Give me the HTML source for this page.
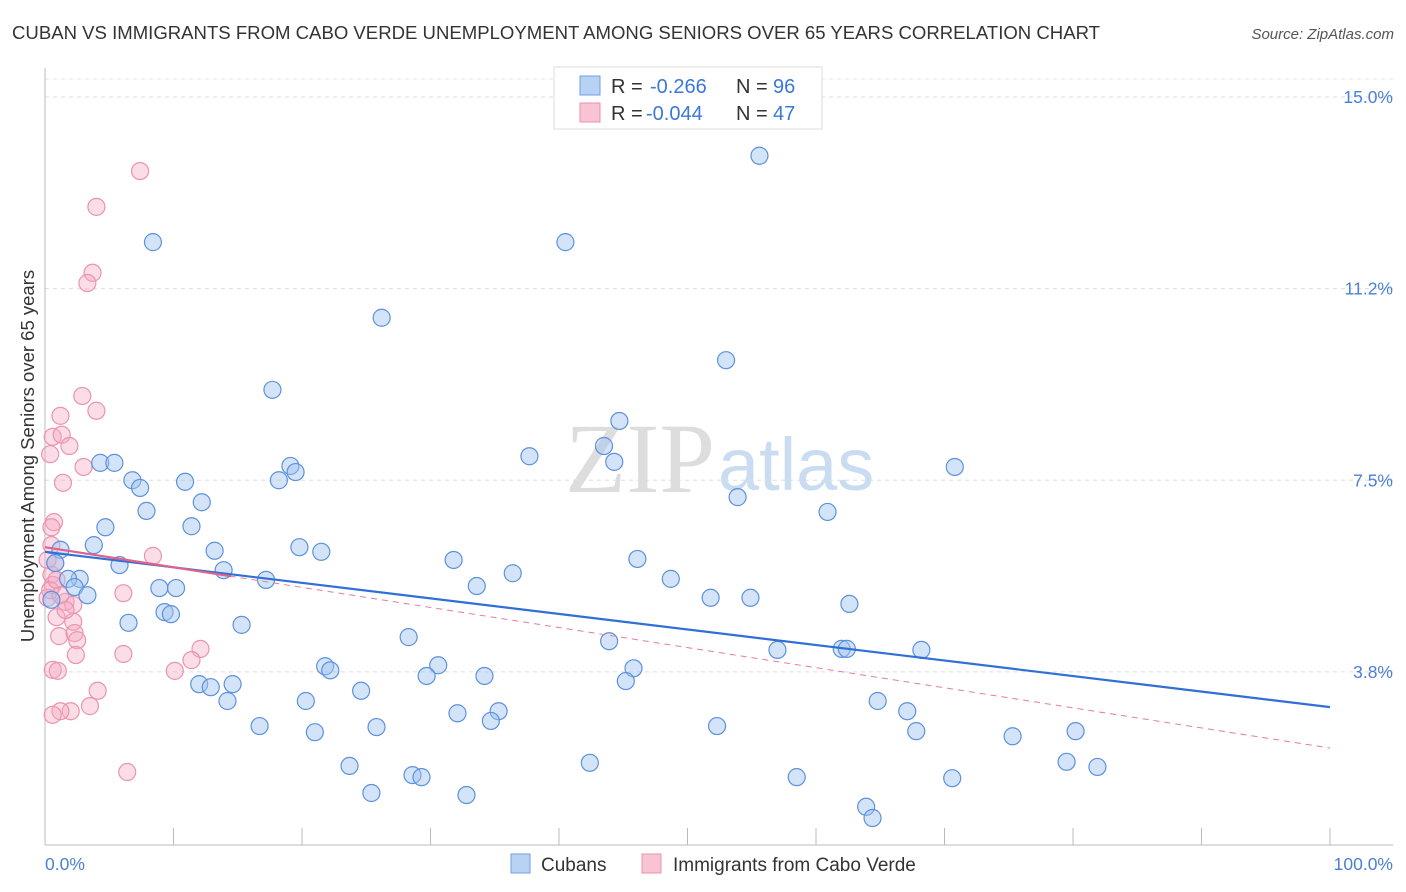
<!DOCTYPE html>
<html><head><meta charset="utf-8"><style>
body{margin:0;background:#fff;font-family:"Liberation Sans",sans-serif;}
</style></head><body>
<svg id="chart" width="1406" height="892" xmlns="http://www.w3.org/2000/svg" style="display:block">
<text x="12" y="39" font-size="18" fill="#333" textLength="1088" lengthAdjust="spacingAndGlyphs">CUBAN VS IMMIGRANTS FROM CABO VERDE UNEMPLOYMENT AMONG SENIORS OVER 65 YEARS CORRELATION CHART</text>
<text x="1394" y="39" font-size="15" fill="#555" font-style="italic" text-anchor="end">Source: ZipAtlas.com</text>
<text x="715" y="492" font-size="100" fill="#ddd" text-anchor="end" font-family="Liberation Serif">ZIP</text>
<text x="718" y="490" font-size="74" fill="#c9dcf2">atlas</text>
<g id="grid"></g>
<g id="axes"></g>
<g id="pts"></g>
<g id="lines"></g>
<text transform="translate(34,456) rotate(-90)" font-size="18.5" fill="#333" text-anchor="middle">Unemployment Among Seniors over 65 years</text>
<g>
<rect x="554" y="67" width="268" height="62" fill="#fff" stroke="#ddd"/>
<rect x="580" y="76" width="20" height="19" fill="#b8d2f4" stroke="#6f9fe0"/>
<text x="611" y="93" font-size="20" fill="#333">R =</text>
<text x="650" y="93" font-size="20" fill="#3b78d8">-0.266</text>
<text x="736" y="93" font-size="20" fill="#333">N =</text>
<text x="773" y="93" font-size="20" fill="#3b78d8">96</text>
<rect x="580" y="103" width="20" height="19" fill="#f8c4d3" stroke="#ec8fab"/>
<text x="611" y="120" font-size="20" fill="#333">R =</text>
<text x="646" y="120" font-size="20" fill="#3b78d8">-0.044</text>
<text x="736" y="120" font-size="20" fill="#333">N =</text>
<text x="773" y="120" font-size="20" fill="#3b78d8">47</text>
</g>
<g>
<rect x="511" y="854" width="19" height="19" fill="#b8d2f4" stroke="#6f9fe0"/>
<text x="541" y="871" font-size="19" fill="#333">Cubans</text>
</g>
<g>
<rect x="642" y="854" width="19" height="19" fill="#f8c4d3" stroke="#ec8fab"/>
<text x="673" y="871" font-size="19" fill="#333">Immigrants from Cabo Verde</text>
</g>
</svg>
<script>
const blueX=[55.6,8.4,40.5,26.2,53.0,17.7,44.7,43.5,37.7,44.3,70.8,4.3,5.4,19.1,19.5,6.8,18.2,10.9,7.4,12.2,53.9,7.9,60.9,11.4,4.7,3.8,19.8,13.2,21.5,31.8,46.1,5.8,1.2,0.8,36.4,13.9,2.7,1.8,17.2,48.7,33.6,8.9,10.2,2.3,3.3,51.8,54.9,9.3,9.8,62.6,6.5,15.3,28.3,43.9,57.0,62.0,62.4,68.2,21.8,22.2,30.6,45.8,29.7,34.2,12.0,14.6,12.9,45.2,24.6,20.3,14.2,64.8,35.3,32.1,67.1,34.7,52.3,16.7,25.8,21.0,67.8,75.3,80.2,23.7,42.4,79.5,81.9,28.6,29.3,58.5,70.6,25.4,32.8,63.9,64.4,0.5];
const blueY=[13.85,12.16,12.16,10.68,9.85,9.27,8.66,8.17,7.97,7.86,7.76,7.84,7.84,7.78,7.66,7.50,7.50,7.47,7.35,7.07,7.17,6.90,6.88,6.60,6.58,6.23,6.19,6.12,6.10,5.94,5.96,5.84,6.14,5.88,5.68,5.74,5.57,5.57,5.55,5.57,5.43,5.39,5.39,5.41,5.25,5.20,5.20,4.92,4.88,5.08,4.71,4.67,4.43,4.35,4.18,4.20,4.20,4.18,3.86,3.78,3.88,3.82,3.67,3.67,3.51,3.51,3.45,3.57,3.38,3.18,3.18,3.18,2.98,2.94,2.98,2.79,2.69,2.69,2.67,2.57,2.59,2.49,2.59,1.91,1.97,1.99,1.89,1.73,1.69,1.69,1.67,1.38,1.34,1.11,0.89,5.16];
const pinkX=[7.4,4.0,3.7,3.3,2.9,4.0,1.2,0.6,1.3,1.9,0.4,3.0,1.4,0.7,0.5,8.4,0.8,0.5,0.6,6.1,1.6,2.2,0.9,2.2,1.1,2.3,2.5,2.4,6.1,12.1,11.4,10.1,0.6,1.0,4.1,3.5,2.0,1.2,0.6,6.4,0.2,0.2,0.4,0.9,1.2,1.6,0.5];
const pinkY=[13.55,12.85,11.56,11.36,9.15,8.86,8.76,8.35,8.39,8.17,8.01,7.76,7.45,6.68,6.58,6.02,5.88,5.65,5.45,5.29,5.12,5.06,4.82,4.73,4.45,4.51,4.37,4.08,4.10,4.20,3.98,3.77,3.79,3.77,3.38,3.08,2.98,2.98,2.91,1.79,5.94,5.20,5.35,5.55,5.25,4.96,6.23];
const cubanTrend=[6.10,3.06];
const caboTrend=[6.19,2.26];
const yTicks=[15.0,11.25,7.5,3.75];
const yTickLabels=["15.0%","11.2%","7.5%","3.8%"];
const xTicks=[0,10,20,30,40,50,60,70,80,90,100];

const NS="http://www.w3.org/2000/svg";
const X=v=>45+v*12.85;
const Y=v=>97+(15-v)*51.1;
function mk(tag,attrs,parent){const e=document.createElementNS(NS,tag);for(const k in attrs)e.setAttribute(k,attrs[k]);document.getElementById(parent).appendChild(e);return e;}

let e=mk('line',{x1:45,x2:1393,y1:79,y2:79,stroke:'#e4e4e4','stroke-dasharray':'4,4'},'grid');


yTicks.forEach((t,i)=>{
  const g=mk('line',{x1:45,x2:1393,y1:Y(t),y2:Y(t),stroke:'#ddd','stroke-dasharray':'4,4'},'grid');
  
  
  const l=mk('text',{x:1393,y:Y(t)+6,'font-size':17.5,fill:'#4a7fd4','text-anchor':'end'},'grid');
  l.textContent=yTickLabels[i];
  
  
});
e=mk('line',{x1:45,x2:45,y1:68,y2:845,stroke:'#bbb'},'axes');


e=mk('line',{x1:45,x2:1393,y1:845,y2:845,stroke:'#bbb'},'axes');


xTicks.forEach(t=>{
  const k=mk('line',{x1:X(t),x2:X(t),y1:828,y2:845,stroke:'#bbb'},'axes');
  
  
});
e=mk('text',{x:45,y:870,'font-size':17.5,fill:'#4a7fd4'},'axes');e.textContent='0.0%';


e=mk('text',{x:1393,y:870,'font-size':17.5,fill:'#4a7fd4','text-anchor':'end'},'axes');e.textContent='100.0%';



pinkX.forEach((x,i)=>{
  const c=mk('circle',{cx:X(x),cy:Y(pinkY[i]),r:8.5,fill:'rgba(244,170,195,0.4)',stroke:'#ec93ae','stroke-width':1.2},'pts');
  
  
});
blueX.forEach((x,i)=>{
  const c=mk('circle',{cx:X(x),cy:Y(blueY[i]),r:8.5,fill:'rgba(160,195,240,0.45)',stroke:'#5d91dd','stroke-width':1.2},'pts');
  
  
});
e=mk('line',{x1:X(0),y1:Y(cubanTrend[0]),x2:X(100),y2:Y(cubanTrend[1]),stroke:'#2f6fd6','stroke-width':2.2},'lines');


e=mk('line',{x1:X(0),y1:Y(caboTrend[0]),x2:X(100),y2:Y(caboTrend[1]),stroke:'#e87a9c','stroke-width':1,'stroke-dasharray':'6,5'},'lines');


const f=14.5;
e=mk('line',{x1:X(0),y1:Y(caboTrend[0]),x2:X(f),y2:Y(caboTrend[0]+(caboTrend[1]-caboTrend[0])*f/100),stroke:'#e0618a','stroke-width':2.2},'lines');


</script>
</body></html>
